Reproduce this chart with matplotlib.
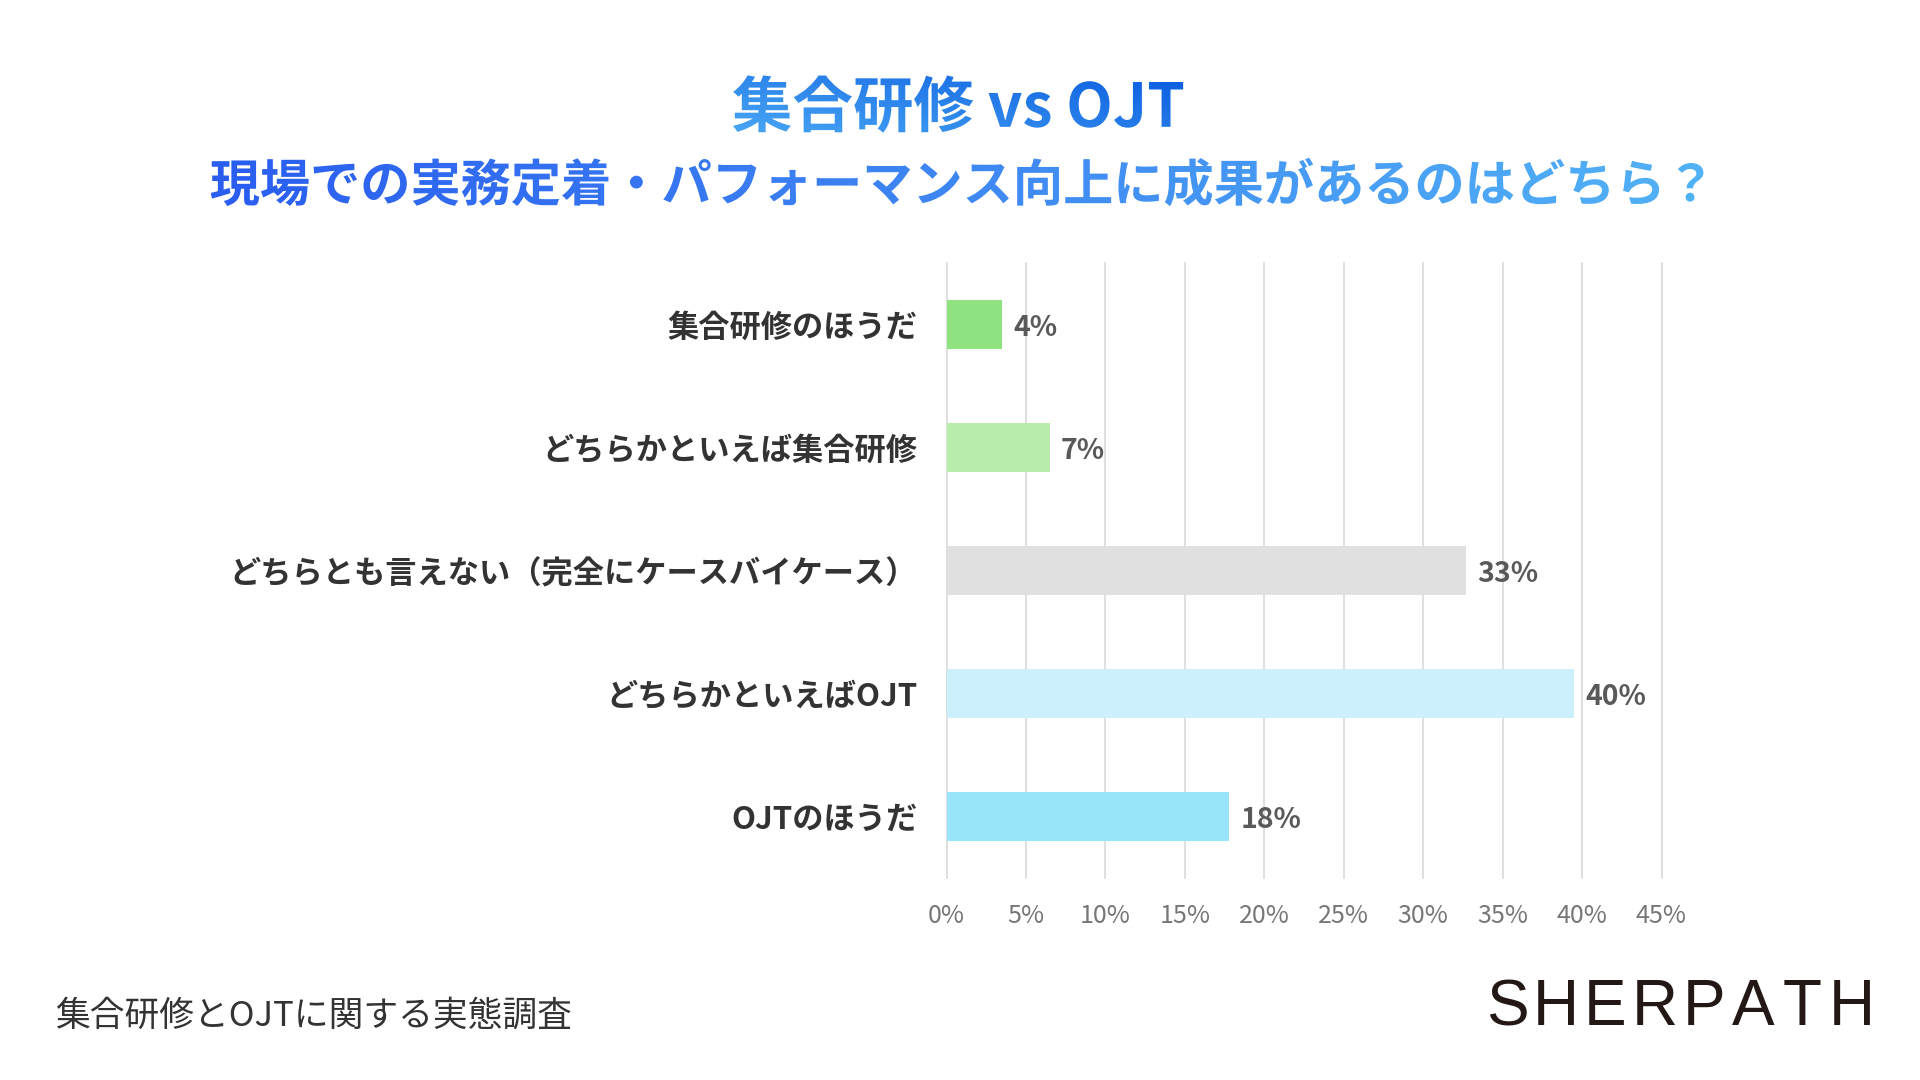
import matplotlib
matplotlib.use("Agg")
import matplotlib.pyplot as plt
import numpy as np
from matplotlib import font_manager
from matplotlib.font_manager import FontProperties
from matplotlib.textpath import TextPath
from matplotlib.patches import PathPatch
from matplotlib.colors import LinearSegmentedColormap
import matplotlib.transforms as mtransforms

plt.rcParams['font.family'] = ['Noto Sans CJK JP', 'DejaVu Sans']

# data
categories = ['集合研修のほうだ', 'どちらかといえば集合研修',
              'どちらとも言えない（完全にケースバイケース）',
              'どちらかといえばOJT', 'OJTのほうだ']
values = [3.5, 6.5, 32.7, 39.5, 17.8]
value_labels = ['4%', '7%', '33%', '40%', '18%']
bar_colors = ['#8ee27f', '#b9edab', '#e0e0e0', '#cdf1fc', '#98e4fb']
xticks = [0, 5, 10, 15, 20, 25, 30, 35, 40, 45]
xtick_labels = [f'{t}%' for t in xticks]

title1 = '集合研修 vs OJT'
title2 = '現場での実務定着・パフォーマンス向上に成果があるのはどちら？'
footer = '集合研修とOJTに関する実態調査'
brand = 'SHERPATH'

W, H = 1920, 1080
fig = plt.figure(figsize=(19.2, 10.8), dpi=100)
fig.patch.set_facecolor('white')

# bar chart
ax = fig.add_axes([946.5 / W, 1 - 878 / H, 715 / W, 615 / H])
y = np.arange(len(categories))
bars = ax.barh(y, values, height=0.4, color=bar_colors, zorder=3)
ax.set_ylim(len(categories) - 0.5, -0.5)
ax.set_xlim(0, 45)
ax.set_xticks(xticks)
ax.set_xticklabels(xtick_labels, fontsize=18, color='#777777')
ax.set_yticks(y)
ax.set_yticklabels(categories, fontsize=22.5, fontweight='bold', color='#333333')
ax.tick_params(axis='both', length=0)
ax.tick_params(axis='y', pad=21)
ax.tick_params(axis='x', pad=18)
for s in ax.spines.values():
    s.set_visible(False)
ax.grid(axis='x', color='#d9d9d9', linewidth=1.2, zorder=0)
for gl in ax.get_xgridlines():
    gl.set_clip_on(False)
for yi, v, lab in zip(y, values, value_labels):
    ax.annotate(lab, (v, yi), xytext=(8, -2.5), textcoords='offset points',
                ha='left', va='center', fontsize=20.5, fontweight='bold',
                color='#595959')

# gradient titles in pixel space
ov = fig.add_axes([0, 0, 1, 1], zorder=10)
ov.set_xlim(0, W)
ov.set_ylim(0, H)
ov.axis('off')
ov.patch.set_alpha(0)

fp_b = FontProperties(family='Noto Sans CJK JP', weight='bold')


def gradient_text(s, xc, yc, em_px, c_start, c_end, direction):
    tp = TextPath((0, 0), s, size=em_px, prop=fp_b)
    bb = tp.get_extents()
    tr = mtransforms.Affine2D().translate(xc - (bb.x0 + bb.x1) / 2,
                                          yc - (bb.y0 + bb.y1) / 2)
    path = tr.transform_path(tp)
    bb = path.get_extents()
    patch = PathPatch(path, facecolor='none', edgecolor='none')
    ov.add_patch(patch)
    nx, ny = 256, 64
    gx, gy = np.meshgrid(np.linspace(0, 1, nx), np.linspace(0, 1, ny))
    if direction == 'diag':
        g = (gx * 0.6 + (1 - gy) * 0.4)
    else:
        g = gx
    cmap = LinearSegmentedColormap.from_list('g', [c_start, c_end])
    im = ov.imshow(g, cmap=cmap, extent=[bb.x0, bb.x1, bb.y0, bb.y1],
                   origin='upper', aspect='auto', interpolation='bilinear')
    im.set_clip_path(patch)


gradient_text(title1, 958, 976, 60.5, '#48a6f4', '#0b5ce0', 'diag')
gradient_text(title2, 957, 898, 50.2, '#2a5df0', '#52b2f6', 'horiz')
ov.set_xlim(0, W)
ov.set_ylim(0, H)

# footer
fig.text(55 / W, 1 - 1016 / H, footer, fontsize=25, color='#333333',
         ha='left', va='center')

names = {f.name for f in font_manager.fontManager.ttflist}
brand_font = 'Liberation Sans Narrow' if 'Liberation Sans Narrow' in names else 'Liberation Sans'
x_start, pitch = 1507, 49.2
for i, ch in enumerate(brand):
    fig.text((x_start + i * pitch) / W, 1 - 1008 / H, ch, fontsize=46,
             family=brand_font, color='#231815', ha='center', va='center')

fig.savefig('out.png', dpi=100, facecolor='white')
